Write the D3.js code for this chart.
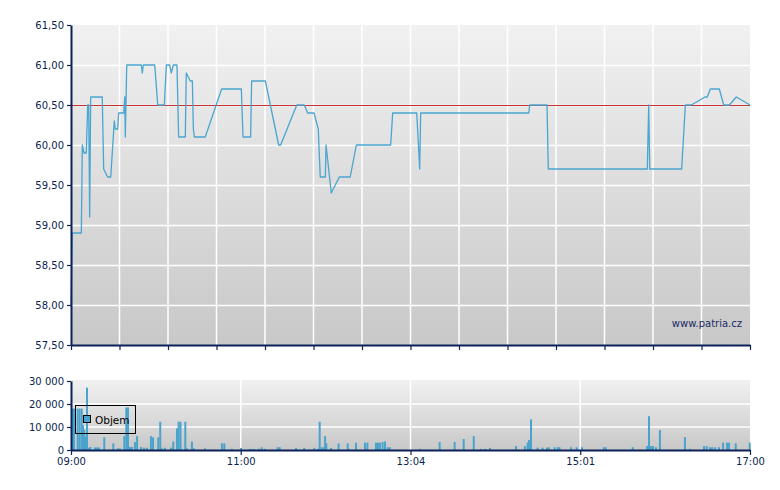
<!DOCTYPE html>
<html><head><meta charset="utf-8">
<script src="https://cdn.jsdelivr.net/npm/d3@7"></script>
<style>
body{margin:0;background:#fff;}
text{font-family:"DejaVu Sans",Verdana,sans-serif;font-size:10px;fill:#0b1f4f;}
</style></head><body>
<script>
// ---- data (time = minutes after 09:00) ----
const priceT = [0,0.9,7.3,8.0,9.2,10.8,11.8,12.5,13.2,13.9,22.1,23.1,25.9,28.1,30.6,31.3,33.0,33.7,37.3,38.0,38.4,39.4,49.7,50.4,51.1,59.2,61.3,66.0,67.4,69.8,70.9,72.3,74.9,76.1,80.8,81.5,82.9,84.3,85.8,86.5,87.2,94.9,106.5,120.4,121.6,127.0,127.7,137.4,146.8,148.2,159.6,164.9,167.3,171.8,174.8,176.2,179.8,180.3,184.0,189.7,197.4,201.7,226.0,227.4,244.4,246.5,247.2,323.6,324.3,336.5,337.4,407.4,408.4,409.1,431.7,434.3,438.5,448.2,449.8,451.9,458.3,461.4,465.4,470.3,480];
const priceV = [58.00,58.90,58.90,60.00,59.90,59.90,60.50,60.50,59.10,60.60,60.60,59.70,59.60,59.60,60.30,60.20,60.20,60.40,60.40,60.60,60.10,61.00,61.00,60.90,61.00,61.00,60.50,60.50,61.00,61.00,60.90,61.00,61.00,60.10,60.10,60.90,60.85,60.80,60.80,60.20,60.10,60.10,60.70,60.70,60.10,60.10,60.80,60.80,60.00,60.00,60.50,60.50,60.40,60.40,60.20,59.60,59.60,60.00,59.40,59.60,59.60,60.00,60.00,60.40,60.40,59.70,60.40,60.40,60.50,60.50,59.70,59.70,60.50,59.70,59.70,60.50,60.50,60.60,60.60,60.70,60.70,60.50,60.50,60.60,60.50];
const prevClose = 60.50;

const volT = [0,1.4,4.0,5.4,6.9,7.8,8.7,9.4,10.6,11.7,12.9,16.3,17.7,19.1,22.8,29.2,32.3,33.7,37.0,38.4,39.6,41.0,42.4,44.5,46.0,48.8,50.9,53.0,55.8,57.3,61.0,62.4,63.6,65.7,70.0,71.6,74.2,75.4,76.7,80.1,81.3,84.8,86.2,94.0,106.0,107.7,113.1,119.5,125.8,128.2,132.2,134.1,136.4,145.4,146.8,158.4,164.2,171.3,173.9,175.1,176.5,177.9,178.9,179.8,183.1,188.5,194.9,196.0,200.8,207.1,208.8,214.9,216.3,217.7,219.6,221.3,223.2,224.6,246.0,259.9,270.5,276.9,284.0,289.1,292.0,295.5,313.9,320.2,322.1,323.1,324.5,329.2,332.7,335.8,337.0,341.2,343.4,344.6,352.8,356.8,360.5,375.9,377.3,396.4,406.5,407.9,409.3,410.7,412.8,415.6,433.3,436.9,446.8,448.7,451.1,452.5,454.6,457.4,460.3,463.1,464.5,469.2,479.1];
const volV = [18000,18000,18000,18000,18000,10800,8700,5800,27100,1000,1300,1100,1100,1100,5500,2900,700,700,6000,18500,18500,1300,1300,3500,6000,1300,1000,1000,6000,5500,5500,12300,700,1000,1000,3700,9400,12300,12300,12300,700,3700,700,700,2900,2900,500,900,500,500,500,1200,500,1200,1200,900,900,900,500,12300,1200,1200,6000,2900,900,2900,2900,500,3200,3200,3200,3200,3200,3200,3500,3700,1200,1200,500,3500,3500,4800,6000,500,500,900,1700,1700,3200,4300,13300,1000,1000,1000,1200,1200,1200,1200,1200,1200,1200,1200,1200,1200,1700,14700,1700,1700,1200,8700,5600,500,1700,1700,1200,1200,1200,1200,3200,3200,3200,2900,3200];

const priceTicks = [57.5,58,58.5,59,59.5,60,60.5,61,61.5];
const volTicks = [0,10000,20000,30000];
const timeTickPos = [0,120,240,360,480];
const timeTickLabels = ["09:00","11:00","13:04","15:01","17:00"];
const legendLabel = "Objem";
const watermark = "www.patria.cz";

// ---- layout ----
const W=780,H=490;
const L=71,R=750, mT=25,mB=345, vT=381,vB=450;
const navy="#0b2359", lineCol="#4aa5d0", barCol="#4aa3cc";

const svg=d3.select("body").append("svg").attr("width",W).attr("height",H);
const defs=svg.append("defs");
const g1=defs.append("linearGradient").attr("id","bg").attr("x1",0).attr("y1",0).attr("x2",0).attr("y2",1);
g1.append("stop").attr("offset","0%").attr("stop-color","#f1f1f1");
g1.append("stop").attr("offset","100%").attr("stop-color","#c8c8c8");

const x=d3.scaleLinear().domain([0,480]).range([L,R]);
const y=d3.scaleLinear().domain([57.5,61.5]).range([mB,mT]);
const yv=d3.scaleLinear().domain([0,30000]).range([vB,vT]);

const loc=d3.formatLocale({decimal:",",thousands:" ",grouping:[3],currency:["",""]});
const fP=loc.format(".2f"), fV=loc.format(",.0f");

// main panel background
svg.append("rect").attr("x",L).attr("y",mT).attr("width",R-L).attr("height",mB-mT).attr("fill","url(#bg)");
// volume panel background
svg.append("rect").attr("x",L).attr("y",vT-1).attr("width",R-L).attr("height",vB-vT+1).attr("fill","url(#bg)");

// grid main
const gridX = d3.range(0,481,480/14);
svg.append("g").selectAll("line").data(gridX.slice(1,-1)).join("line")
  .attr("x1",d=>x(d)).attr("x2",d=>x(d)).attr("y1",mT).attr("y2",mB)
  .attr("stroke","#fff").attr("stroke-width",1.5);
svg.append("g").selectAll("line").data(priceTicks.slice(1,-1)).join("line")
  .attr("x1",L).attr("x2",R).attr("y1",d=>y(d)+0.5).attr("y2",d=>y(d)+0.5)
  .attr("stroke","#fff").attr("stroke-width",1.5);
// grid volume
svg.append("g").selectAll("line").data(timeTickPos.slice(1,-1)).join("line")
  .attr("x1",d=>x(d)).attr("x2",d=>x(d)).attr("y1",vT-1).attr("y2",vB)
  .attr("stroke","#fff").attr("stroke-width",1.5);
svg.append("g").selectAll("line").data(volTicks.slice(1,-1)).join("line")
  .attr("x1",L).attr("x2",R).attr("y1",d=>yv(d)).attr("y2",d=>yv(d))
  .attr("stroke","#fff").attr("stroke-width",1.5);

// watermark
svg.append("text").attr("x",742).attr("y",327).attr("text-anchor","end").text(watermark).style("fill","#1a2a66");

// reference line
svg.append("line").attr("x1",L).attr("x2",R).attr("y1",y(prevClose)+0.5).attr("y2",y(prevClose)+0.5)
  .attr("stroke","#c83232").attr("stroke-width",1);

// price line
const pts=priceT.map((t,i)=>[t,priceV[i]]);
svg.append("path").datum(pts).attr("fill","none").attr("stroke",lineCol).attr("stroke-width",1.3)
  .attr("stroke-linejoin","round")
  .attr("d",d3.line().x(d=>x(d[0])).y(d=>y(d[1])));

// volume bars
const bw = x(1.4)-x(0);
svg.append("g").selectAll("rect").data(volT.map((t,i)=>[t,volV[i]])).join("rect")
  .attr("x",d=>x(d[0])).attr("width",bw).attr("y",d=>yv(d[1])).attr("height",d=>vB-yv(d[1]))
  .attr("fill",barCol);

// axes
function style(g){g.selectAll("path,line").attr("stroke",navy);g.select(".domain").attr("stroke-width",2);g.selectAll(".tick line").attr("stroke-width",1.2);g.selectAll("text").attr("font-family",null).attr("font-size",null).attr("fill",null);}
svg.append("g").attr("transform",`translate(${L},0)`)
  .call(d3.axisLeft(y).tickValues(priceTicks).tickFormat(fP).tickSize(4).tickSizeOuter(0).tickPadding(3)).call(style);
svg.append("g").attr("transform",`translate(0,${mB})`)
  .call(d3.axisBottom(x).tickValues(gridX).tickFormat("").tickSize(5).tickSizeOuter(0)).call(style);
svg.append("g").attr("transform",`translate(${L},0)`)
  .call(d3.axisLeft(yv).tickValues(volTicks).tickFormat(fV).tickSize(4).tickSizeOuter(0).tickPadding(3)).call(style);
svg.append("g").attr("transform",`translate(0,${vB})`)
  .call(d3.axisBottom(x).tickValues(timeTickPos).tickFormat((d,i)=>timeTickLabels[i]).tickSize(5).tickSizeOuter(0).tickPadding(3)).call(style);

// legend
const lg=svg.append("g");
lg.append("rect").attr("x",75.5).attr("y",405.5).attr("width",60).attr("height",28).attr("fill","none").attr("stroke","#000").attr("stroke-width",1);
lg.append("rect").attr("x",83.5).attr("y",415.5).attr("width",7).attr("height",7).attr("fill",barCol).attr("stroke","#000").attr("stroke-width",1);
lg.append("text").attr("x",95).attr("y",424).text(legendLabel).style("fill","#000").style("font-size","10.5px");
</script>
</body></html>
